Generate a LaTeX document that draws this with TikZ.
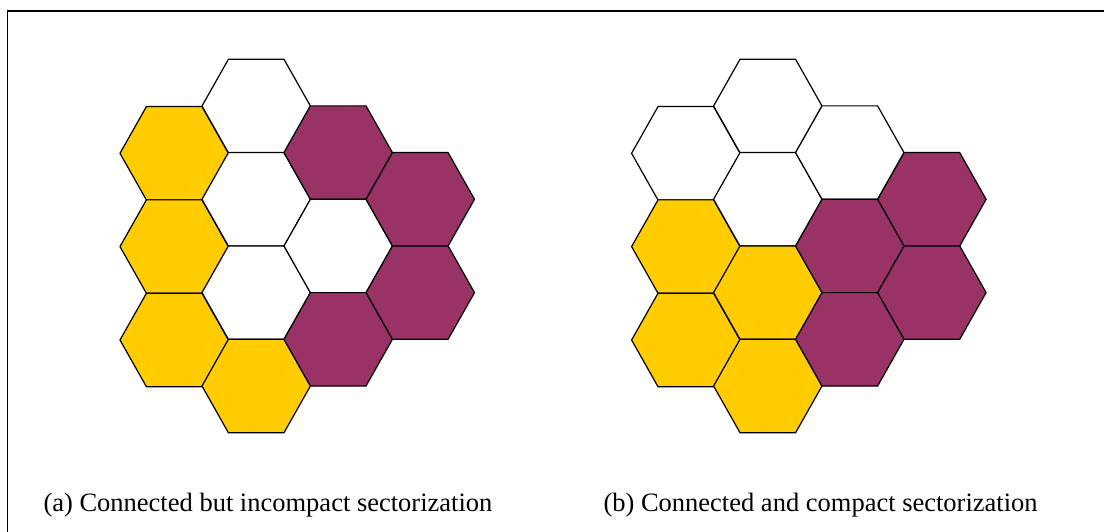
\documentclass[tikz,border=0pt]{standalone}
\usepackage{fontspec}
\setmainfont{Liberation Serif}
\definecolor{hexyellow}{HTML}{FFCC00}
\definecolor{hexpurple}{HTML}{993366}
\tikzset{
  hexcell/.pic={\path[pic actions] (-54.2,0) -- (-27.8,46.7) -- (27.8,46.7) -- (54.2,0) -- (27.8,-46.7) -- (-27.8,-46.7) -- cycle;},
  cellW/.style={draw=black, fill=white, line width=1.2pt, line join=miter},
  cellY/.style={draw=black, fill=hexyellow, line width=1.2pt, line join=miter},
  cellP/.style={draw=black, fill=hexpurple, line width=1.2pt, line join=miter},
  caption/.style={anchor=base west, inner sep=0pt, font=\fontsize{26.5}{30}\selectfont},
}
\begin{document}
\begin{tikzpicture}[x=1pt, y=-1pt]
\useasboundingbox (0,0) rectangle (1104,532);
% frame
\draw[line width=1.5pt] (7.3,532) -- (7.3,11) -- (1104,11);
% (a)
\pic[cellY] at (174.2,153.3) {hexcell};
\pic[cellY] at (174.2,246.6) {hexcell};
\pic[cellY] at (174.2,340.0) {hexcell};
\pic[cellW] at (256.2,106.0) {hexcell};
\pic[cellW] at (256.2,199.3) {hexcell};
\pic[cellW] at (256.2,292.6) {hexcell};
\pic[cellY] at (256.2,386.0) {hexcell};
\pic[cellP] at (338.2,152.6) {hexcell};
\pic[cellW] at (338.2,246.0) {hexcell};
\pic[cellP] at (338.2,339.3) {hexcell};
\pic[cellP] at (420.3,199.3) {hexcell};
\pic[cellP] at (420.3,292.6) {hexcell};
% (b)
\pic[cellW] at (685.8,153.3) {hexcell};
\pic[cellY] at (685.8,246.6) {hexcell};
\pic[cellY] at (685.8,340.0) {hexcell};
\pic[cellW] at (767.8,106.0) {hexcell};
\pic[cellW] at (767.8,199.3) {hexcell};
\pic[cellY] at (767.8,292.6) {hexcell};
\pic[cellY] at (767.8,386.0) {hexcell};
\pic[cellW] at (849.8,152.6) {hexcell};
\pic[cellP] at (849.8,246.0) {hexcell};
\pic[cellP] at (849.8,339.3) {hexcell};
\pic[cellP] at (931.9,199.3) {hexcell};
\pic[cellP] at (931.9,292.6) {hexcell};
% captions
\node[caption] (capa) at (43.3,511) {(a) Connected but incompact sectorization};
\node[caption] (capb) at (603.3,511) {(b) Connected and compact sectorization};
\end{tikzpicture}
\end{document}
